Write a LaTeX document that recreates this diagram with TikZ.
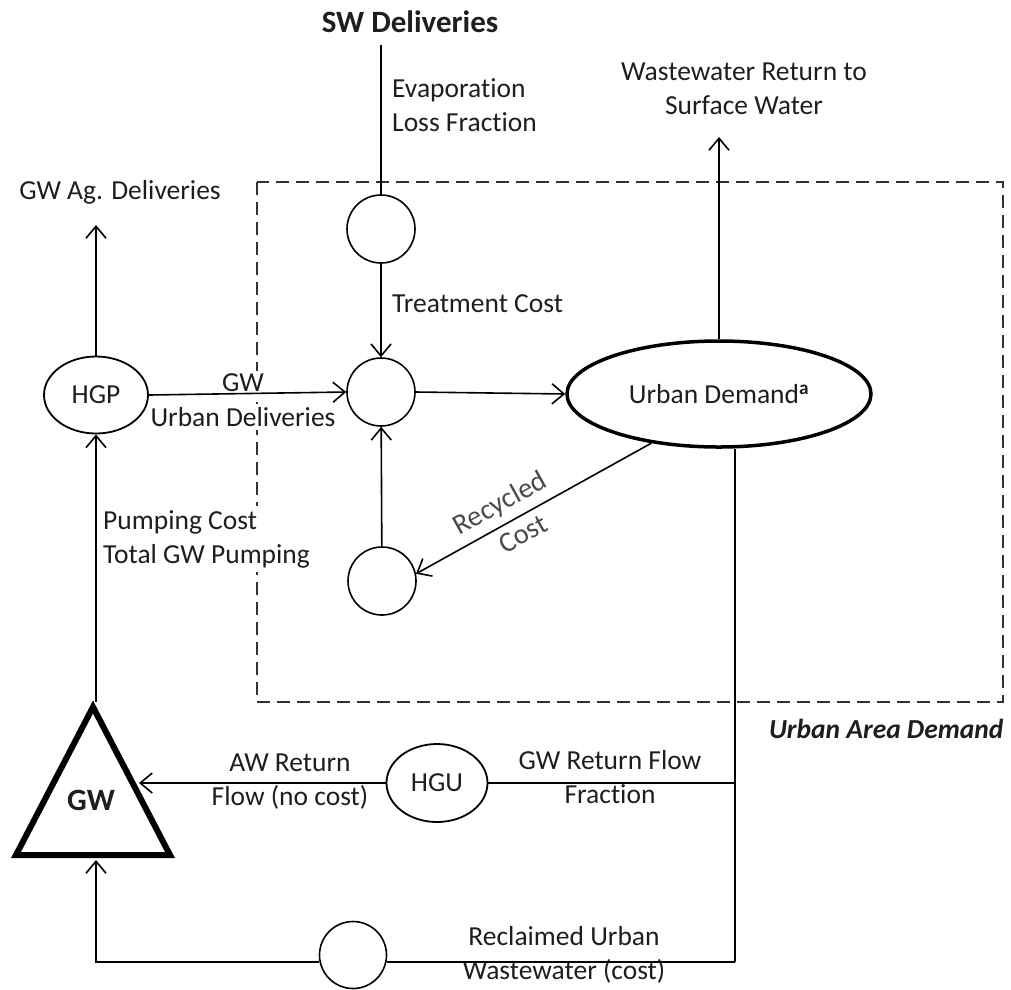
\documentclass[tikz,border=0pt]{standalone}
\usepackage{fontspec}
\setmainfont{Carlito}[Ligatures=NoCommon]
\usetikzlibrary{arrows.meta,shapes.geometric}
\definecolor{txt}{HTML}{1E1E1E}
\definecolor{soft}{HTML}{4A4A4A}
\definecolor{boxline}{HTML}{333333}

\begin{document}
\begin{tikzpicture}[x=1pt,y=-1pt,
  every node/.style={text=txt, font=\fontsize{27.5}{34}\selectfont},
  bigbold/.style={font=\fontsize{31}{36}\selectfont\bfseries},
  flow/.style={line width=1.6pt, -{Straight Barb[length=12pt,width=20pt,line width=1.6pt]}},
  plain/.style={line width=1.6pt},
  hub/.style={circle, draw, line width=1.6pt, minimum size=68pt, inner sep=0pt, fill=white},
  oval/.style={ellipse, draw, line width=1.8pt, minimum width=104pt, minimum height=77pt, inner sep=0pt, fill=white},
  lbl/.style={fill=white, inner sep=3pt},
  slant/.style={sloped, text=soft, font=\fontsize{28.5}{34}\selectfont, inner sep=2pt},
  areabox/.style={draw=boxline, line width=2pt, dash pattern=on 13pt off 7pt},
]
\useasboundingbox (0,0) rectangle (1011,989);

% urban area boundary
\draw[areabox] (257,182) rectangle (1003,702);

% nodes
\node[bigbold] (sw) at (410,22) {SW Deliveries};
\node[hub] (c1) at (381,229) {};
\node[hub] (c2) at (381,392) {};
\node[hub] (c3) at (382,581) {};
\node[hub, minimum size=67pt] (c4) at (353,955) {};
\node[ellipse, draw, line width=3.5pt, minimum width=304pt, minimum height=106pt,
      inner sep=0pt, fill=white] (ud) at (719,394)
      {Urban Demand\textsuperscript{\bfseries a}};
\node[oval] (hgp) at (96,395) {HGP};
\node[oval, minimum width=101pt, minimum height=78pt] (hgu) at (437,783) {HGU};

% groundwater triangle
\draw[line width=6pt, line join=miter] (93,707) -- (170,855) -- (16,855) -- cycle;
\node[bigbold] (gw) at (91,800) {GW};
\coordinate (gwtop) at (96,702);
\coordinate (gwside) at (139,783);
\coordinate (gwbase) at (96,860);

% helper points
\coordinate (swfoot) at (381,45);
\coordinate (wwtip) at (719,137);
\coordinate (agtip) at (96,225);
\coordinate (drop) at (735,962);
\coordinate (hguj) at (735,783);
\coordinate (corner) at (96,962);

% labels
\node[anchor=west, inner sep=0pt, align=left] (evap) at (392,105) {Evaporation\\Loss Fraction};
\node[anchor=west, inner sep=0pt] (treat) at (392,304) {Treatment Cost};
\node[align=center] (ww) at (744,89) {Wastewater Return to\\Surface Water};
\node (agd) at (120,192) {GW Ag. Deliveries};
\node[lbl] (gwl) at (243,383) {GW};
\node[lbl] (urbdel) at (243,417) {Urban Deliveries};
\node[lbl, anchor=west, align=left, inner sep=4pt] (pump) at (99,539) {Pumping Cost\\Total GW Pumping};
\node[align=center] (awret) at (290,782) {AW Return\\Flow (no cost)};
\node[align=center] (gwret) at (610,777) {GW Return Flow\\Fraction};
\node[align=center] (recl) at (564,955) {Reclaimed Urban\\Wastewater (cost)};
\node[font=\fontsize{27.5}{34}\selectfont\bfseries\itshape, anchor=east] (area) at (1007,729) {Urban Area Demand};

% connectors
\draw[plain] (swfoot) -- (c1);
\draw[flow] (c1) -- (c2);
\draw[flow] (c2.east) -- (ud.west);
\draw[flow] (c3) -- (c2);
\draw[flow] (ud.216) --
  node[pos=0.6, slant, above=5pt] (recy) {Recycled}
  node[pos=0.58, slant, below=5pt] (rcost) {Cost} (c3.12);
\draw[flow] (ud.north) -- (wwtip);
\draw[flow] (hgp.north) -- (agtip);
\draw[flow] (hgp.east) -- (c2.west);
\draw[flow] (gwtop) -- (hgp.south);
\draw[plain] (ud.south -| drop) -- (drop);
\draw[plain] (hguj) -- (hgu.east);
\draw[flow] (hgu.west) -- (gwside);
\draw[plain] (drop) -- (c4.east |- drop);
\draw[flow] (c4.west |- drop) -- (corner) -- (gwbase);
\end{tikzpicture}
\end{document}
